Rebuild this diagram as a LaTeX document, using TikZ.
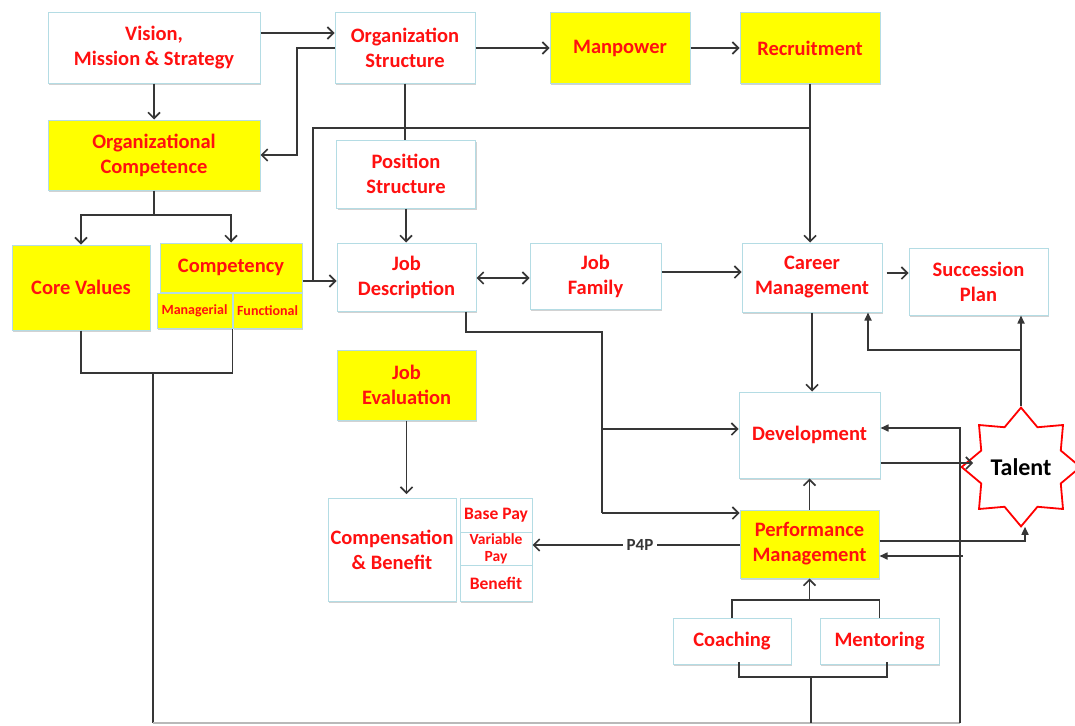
\documentclass[tikz,border=0pt]{standalone}
\usepackage{fontspec}
\setmainfont{Carlito}
\usetikzlibrary{arrows.meta,shapes.geometric,shadows}
\definecolor{bordc}{HTML}{B4DCE4}
\definecolor{txtred}{HTML}{FF1010}
\definecolor{ylw}{HTML}{FFFF00}
\definecolor{lnc}{HTML}{363636}
\begin{document}
\begin{tikzpicture}[x=1pt,y=-1pt,
  box/.style={rectangle, draw=bordc, line width=1pt, fill=white, text=txtred,
    font=\fontsize{20.5}{25}\selectfont\bfseries, align=center, inner sep=0pt,
    drop shadow={shadow xshift=1pt,shadow yshift=-2pt,fill=black!35,opacity=0.5}},
  ybox/.style={box, fill=ylw},
  sz/.style 2 args={minimum width=#1pt, minimum height=#2pt},
  small/.style={font=\fontsize{14}{15}\selectfont\bfseries},
  mid/.style={font=\fontsize{17.5}{18}\selectfont\bfseries},
  tight/.style={font=\fontsize{15.5}{16.5}\selectfont\bfseries},
  conn/.style={draw=lnc, line width=1.6pt},
  arr/.style={conn, -{Straight Barb[length=6pt,width=12pt]}},
  darr/.style={conn, {Straight Barb[length=6pt,width=12pt]}-{Straight Barb[length=6pt,width=12pt]}},
  trip/.style={conn, -{Triangle[length=8pt,width=7pt]}}
]
\useasboundingbox (0,0) rectangle (1075,725);

% nodes
\node[box, sz={212}{70}] (vision) at (154,48) {Vision,\\Mission \& Strategy};
\node[box, sz={140}{70}] (orgs) at (405,48) {Organization\\Structure};
\node[ybox, sz={140}{70}] (manp) at (620,48) {Manpower};
\node[ybox, sz={140}{70}] (recr) at (810,48) {Recruitment};
\node[ybox, sz={212}{70}] (orgc) at (154,155) {Organizational\\Competence};
\node[box, sz={139}{68}] (posn) at (406,174) {Position\\Structure};
\node[ybox, sz={138}{85}] (core) at (81,287.5) {Core Values};
\node[ybox, sz={142}{49}] (comp) at (231,267.5) {Competency};
\node[ybox, sz={75}{35}, small] (mgr) at (194.5,310.5) {Managerial};
\node[ybox, sz={69}{35}, small] (func) at (267.5,310.5) {Functional};
\node[box, sz={139}{68}] (jobd) at (406.5,277) {Job\\Description};
\node[box, sz={131}{66}] (jobf) at (595.5,276) {Job\\Family};
\node[box, sz={140}{69}] (care) at (812,277.5) {Career\\Management};
\node[box, sz={139}{67}] (succ) at (978.5,281.5) {Succession\\Plan};
\node[ybox, sz={139}{70}] (jobe) at (406.5,385) {Job\\Evaluation};
\node[box, sz={141}{86}] (dev) at (809.5,435) {Development};
\node[box, sz={128}{103}] (cb) at (392,549.5) {Compensation\\\& Benefit};
\node[box, sz={72}{34}, mid] (base) at (496,515) {Base Pay};
\node[box, sz={72}{33}, tight] (var) at (496,549) {Variable\\Pay};
\node[box, sz={72}{36}, mid] (ben) at (496,583) {Benefit};
\node[ybox, sz={139}{68}] (perf) at (809.5,544) {Performance\\Management};
\node[box, sz={118}{46}] (coach) at (732,641) {Coaching};
\node[box, sz={119}{46}] (ment) at (879.5,641) {Mentoring};
\node[star, star points=8, star point ratio=1.38, minimum size=106pt, inner sep=0pt,
      draw=red, line width=1.8pt, fill=white, text=black,
      font=\fontsize{24}{26}\selectfont\bfseries] (talent) at (1021,467) {Talent};

% connectors
\draw[arr] (vision.east |- 0,33) -- (orgs.west |- 0,33);
\draw[arr] (vision.south) -- (orgc.north);
\draw[arr] (orgs.west) -- (297,48) |- (orgc.east);
\draw[arr] (orgs) -- (manp);
\draw[arr] (manp) -- (recr);
\draw[conn] (orgs.south) -- (orgs.south |- posn.north);
\draw[arr] (posn.south) -- (posn.south |- jobd.north);
\draw[arr] (recr.south) -- (recr.south |- care.north);
\coordinate (rj) at (recr.south |- 0,128);
\coordinate (lj) at (313,128);
\coordinate (lk) at (313,281);
\draw[conn] (rj) -- (lj) -- (lk);
\draw[arr] (comp.east |- 0,281) -- (jobd.west |- 0,281);

\coordinate (b1) at (154,215);
\draw[arr] (orgc.south) -- (b1) -| (core.north);
\draw[arr] (b1) -| (comp.north);
\coordinate (b2) at (153,373);
\draw[conn] (core.south) -- (core.south |- b2) -| (mgr.south east);
\coordinate (b3) at (153,723);
\coordinate (b4) at (960,723);
\draw[conn] (b2) -- (b3);
\draw[gray!55, line width=1.4pt] (b3) -- (b4);
\draw[trip] (b4) -- (960,428) -- (dev.east |- 0,428);
\draw[trip] (963,556) -- (perf.east |- 0,556);

\draw[darr] (jobd.east |- 0,278) -- (jobf.west |- 0,278);
\draw[arr] (jobf.east |- 0,272) -- (care.west |- 0,272);
\draw[arr] ([xshift=4pt]care.east |- 0,273) -- (succ.west |- 0,273);
\draw[arr] (care.south) -- (care.south |- dev.north);

\coordinate (jd1) at (466,332);
\coordinate (jd2) at (602,332);
\coordinate (jd3) at (602,513);
\draw[conn] (jobd.south -| jd1) -- (jd1) -- (jd2) -- (jd3);
\draw[arr] (jd3) -- (perf.west |- jd3);
\draw[arr] (602,429) -- (dev.west |- 0,429);

\draw[arr] (jobe.south) -- (jobe.south |- 0,494);
\draw[arr] (perf.west |- 0,545) -- (var.east |- 0,545);
\node[fill=white, inner xsep=4pt, inner ysep=1pt, text=lnc, font=\fontsize{17}{18}\selectfont\bfseries] (p4p) at (640,545) {P4P};
\draw[arr] (perf.north) -- (perf.north |- dev.south);
\draw[trip] (perf.east |- 0,541) -| ([xshift=4pt,yshift=1pt]talent.south);
\draw[arr] (dev.east |- 0,463) -- (973,463);

\coordinate (t1) at (talent.north |- 0,350);
\draw[trip] (talent.north) -- (t1) -| (care.south -| 868,0);
\draw[trip] (t1) -- (talent.north |- succ.south);

\coordinate (c1) at (perf.south |- 0,600);
\draw[conn] (coach.north) -- (coach.north |- c1) -| (ment.north);
\draw[arr] (c1) -- (perf.south);
\coordinate (c2) at (739,677);
\coordinate (c3) at (887,677);
\draw[conn] (739,662) -- (c2) -- (c3) -- (887,662);
\draw[conn] (811,677) -- (811,723);
\end{tikzpicture}
\end{document}
